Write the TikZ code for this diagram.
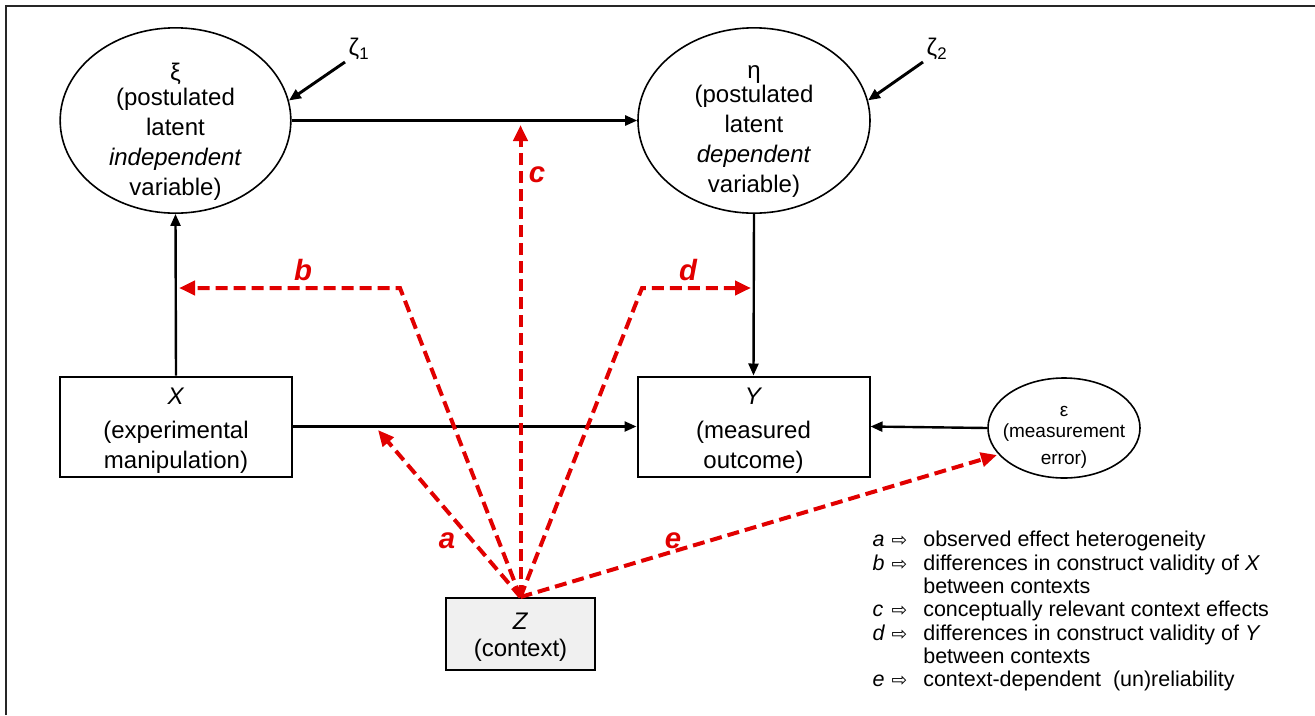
\documentclass[tikz,border=0pt]{standalone}
\usepackage{fontspec}
\setmainfont{Liberation Sans}
\newfontfamily\arrowfont{DejaVu Sans}
\usetikzlibrary{shapes.geometric,arrows.meta}
\definecolor{ctxred}{RGB}{225,0,0}
\definecolor{ctxgray}{RGB}{240,240,240}
\newcommand{\keyarrow}{{\arrowfont\fontsize{14}{14}\selectfont ⇨}}

\tikzset{every picture/.style={line width=0.75pt}}
\tikzset{
  latent/.style={draw, ellipse, line width=1.2pt, inner sep=0pt},
  observed/.style={draw, rectangle, line width=1.5pt, inner sep=0pt},
  vartext/.style={inner sep=0pt, align=center, font=\fontsize{18}{22.5}\selectfont},
  causal/.style={line width=1.8pt, -{Triangle[length=9pt,width=7.5pt]}},
  moderator/.style={ctxred, line width=3pt, dash pattern=on 9pt off 4.5pt, -{Triangle[length=12pt,width=10.5pt]}},
  effect/.style={ctxred, inner sep=0pt, font=\fontsize{22}{22}\selectfont\bfseries\itshape}
}

\begin{document}
\begin{tikzpicture}[x=0.75pt,y=0.75pt,yscale=-1,xscale=1]
\useasboundingbox (0,0) rectangle (1315,715);

%Frame
\draw[line width=1.5pt, black!85] (6,715) -- (6,6) -- (1315,6);

%Shape: Ellipses (latent variables)
\node[latent, minimum width=173pt, minimum height=139pt] (xi) at (175.5,120.5) {};
\node[latent, minimum width=174pt, minimum height=139pt] (eta) at (754,120.5) {};
\node[latent, minimum width=114pt, minimum height=75pt] (eps) at (1064,428) {};

%Shape: Rectangles (observed variables)
\node[observed, minimum width=174pt, minimum height=75pt] (X) at (176,426.5) {};
\node[observed, minimum width=174pt, minimum height=75pt] (Y) at (753.5,426.5) {};
\node[observed, fill=ctxgray, minimum width=112pt, minimum height=54pt] (Z) at (520.5,634) {};

% Text Node
\node[vartext] (xitext) at (175.5,131.5) {ξ\\[-4pt](postulated\\latent\\\textit{independent}\\variable)};
\node[vartext] (etatext) at (754,131.5) {η\\[-4pt](postulated\\latent\\\textit{dependent}\\variable)};
\node[vartext, font=\fontsize{14.25}{20}\selectfont] (epstext) at (1064,437) {ε\\[-4pt](measurement\\error)};
\node[vartext] (Xtext) at (176,430.5) {\textit{X}\\[3pt](experimental\\manipulation)};
\node[vartext] (Ytext) at (753.5,430.5) {\textit{Y}\\[3pt](measured\\outcome)};
\node[vartext] (Ztext) at (520.5,637) {\textit{Z}\\[-2pt](context)};

%Disturbances
\node[inner sep=0pt, font=\fontsize{18}{18}\selectfont] (zeta1) at (359,49) {ζ\textsubscript{1}};
\node[inner sep=0pt, font=\fontsize{18}{18}\selectfont] (zeta2) at (937,49) {ζ\textsubscript{2}};
\coordinate (z1tail) at (345,62);
\coordinate (z2tail) at (923,62);

%Straight Lines
\draw[causal, line width=2.2pt] (z1tail) -- (xi.10);
\draw[causal, line width=2.2pt] (z2tail) -- (eta.10);
\draw[causal] (xi.east) -- (eta.west);
\draw[causal] (X.north) -- (xi.south);
\draw[causal] (eta.south) -- (Y.north);
\draw[causal] (X.east) -- (Y.west);
\draw[causal] (eps.west) -- (Y.east);

%Context effects
\coordinate (atip) at (378,430);
\coordinate (bknee) at (400,288);
\coordinate (btip) at (179,288);
\coordinate (ctip) at (520.5,125);
\coordinate (dknee) at (642,288);
\coordinate (dtip) at (751,288);
\coordinate (etip) at (997,455);
\draw[moderator] (Z.north) -- (atip);
\draw[moderator] (Z.north) -- (bknee) -- (btip);
\draw[moderator] (Z.north) -- (ctip);
\draw[moderator] (Z.north) -- (dknee) -- (dtip);
\draw[moderator] (Z.north) -- (etip);

% Text Node
\node[effect] (lbla) at (447,541) {a};
\node[effect] (lblb) at (303,270) {b};
\node[effect] (lblc) at (537,175) {c};
\node[effect] (lbld) at (688,270) {d};
\node[effect] (lble) at (673,541) {e};

% Text Node
\node[anchor=north west, inner sep=0pt, font=\fontsize{16.1}{17.5}\selectfont] (key) at (872,530) {%
\begin{tabular}{@{}l@{\hspace{5pt}}l@{\hspace{12pt}}l@{}}
\textit{a} & \keyarrow & observed effect heterogeneity\\
\textit{b} & \keyarrow & differences in construct validity of \textit{X}\\
 & & between contexts\\
\textit{c} & \keyarrow & conceptually relevant context effects\\
\textit{d} & \keyarrow & differences in construct validity of \textit{Y}\\
 & & between contexts\\
\textit{e} & \keyarrow & context-dependent\ \ (un)reliability
\end{tabular}};
\end{tikzpicture}
\end{document}
